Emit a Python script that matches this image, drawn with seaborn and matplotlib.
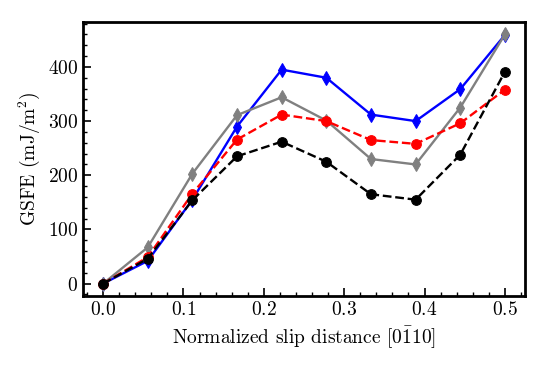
import numpy as np
import pandas as pd
import matplotlib
matplotlib.use("Agg")
import matplotlib.pyplot as plt
from matplotlib.ticker import MultipleLocator
import seaborn as sns

# Dados
slip = [0.0, 1/18, 2/18, 3/18, 4/18, 5/18, 6/18, 7/18, 8/18, 9/18]
blue_vals = [0, 42, 155, 290, 395, 380, 312, 300, 359, 459]
gray_vals = [0, 67, 203, 311, 344, 301, 230, 220, 325, 460]
red_vals = [0, 49, 166, 266, 312, 300, 265, 258, 296, 358]
black_vals = [0, 46, 154, 235, 262, 225, 165, 155, 238, 391]

sns.set_style("ticks")
plt.rcParams["font.family"] = ["cmr10", "DejaVu Serif"]
plt.rcParams["mathtext.fontset"] = "cm"
plt.rcParams["axes.unicode_minus"] = False
plt.rcParams["axes.formatter.use_mathtext"] = True

fig = plt.figure(figsize=(5.48, 3.66), dpi=100)
ax = fig.add_axes([0.1515, 0.191, 0.8065, 0.749])

series = [
    (blue_vals, "blue", "-", "d"),
    (gray_vals, "gray", "-", "d"),
    (red_vals, "red", "--", "o"),
    (black_vals, "black", "--", "o"),
]
for vals, color, ls, mk in series:
    sns.lineplot(x=slip, y=vals, ax=ax, color=color, linestyle=ls, marker=mk,
                 markersize=7, markeredgecolor=color, linewidth=1.7)

ax.set_xlabel(r"Normalized slip distance [$0\bar{1}10$]", fontsize=14)
ax.set_ylabel(r"GSFE (mJ/m$^2$)", fontsize=14)
ax.xaxis.set_major_locator(MultipleLocator(0.1))
ax.xaxis.set_minor_locator(MultipleLocator(0.02))
ax.yaxis.set_major_locator(MultipleLocator(100))
ax.yaxis.set_minor_locator(MultipleLocator(20))
ax.tick_params(which="both", direction="in", labelsize=14, color="black",
               labelcolor="black")
ax.tick_params(which="major", length=6, width=1.2)
ax.tick_params(which="minor", length=3, width=1)
ax.xaxis.label.set_color("black")
ax.yaxis.label.set_color("black")
for sp in ax.spines.values():
    sp.set_linewidth(2)
    sp.set_color("black")

plt.savefig("out.png", dpi=100)
